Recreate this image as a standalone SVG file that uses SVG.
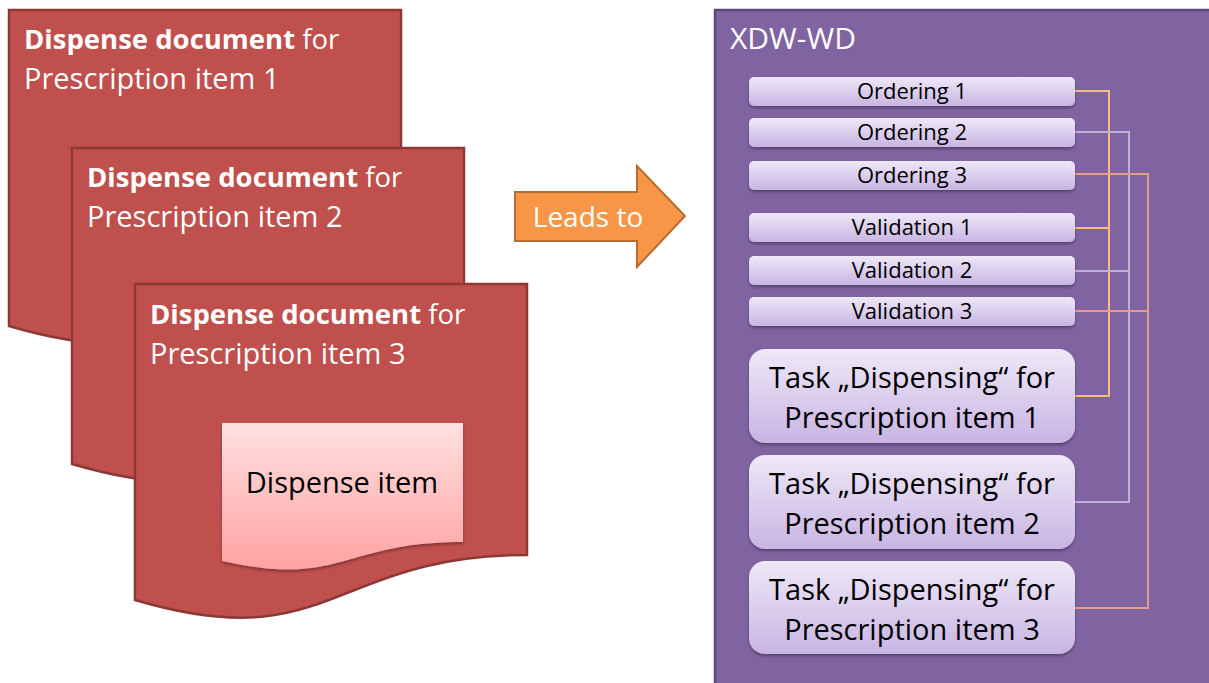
<svg xmlns="http://www.w3.org/2000/svg" width="1209" height="683" viewBox="0 0 1209 683">
<defs>
<linearGradient id="gItem" x1="0" y1="0" x2="0" y2="1"><stop offset="0" stop-color="#FFE0E0"/><stop offset="1" stop-color="#FFA3A3"/></linearGradient>
<linearGradient id="gBar" x1="0" y1="0" x2="0" y2="1"><stop offset="0" stop-color="#EEE8F7"/><stop offset="1" stop-color="#C8B5E3"/></linearGradient>
<filter id="sh" x="-10%" y="-20%" width="120%" height="150%"><feDropShadow dx="0" dy="2" stdDeviation="1.5" flood-color="#000" flood-opacity="0.35"/></filter>
<path id="doc" d="M0,0 H392 V271 C196,271 196,374 0,316 Z"/>
</defs>
<style>
.doc{fill:#C0504D;stroke:#8C3836;stroke-width:2.5}
.dt{font-family:"Open Sans","Liberation Sans",sans-serif;font-size:29px;fill:#fff}
.l1{font-size:27.5px}
.b{font-weight:bold}
.bar{fill:url(#gBar);filter:url(#sh)}
.bt{font-family:"Open Sans","Liberation Sans",sans-serif;font-size:22px;fill:#000;text-anchor:middle}
.tt{font-family:"Open Sans","Liberation Sans",sans-serif;font-size:29px;fill:#000;text-anchor:middle}
.c{fill:none;stroke-width:2}
</style>
<rect width="1209" height="683" fill="#fff"/>
<g id="doc1">
<use href="#doc" x="9" y="10" class="doc"/>
<text class="dt l1" x="24" y="49"><tspan class="b">Dispense document</tspan> for</text>
<text class="dt" x="24" y="89">Prescription item 1</text>
</g>
<g id="doc2">
<use href="#doc" x="72" y="148" class="doc"/>
<text class="dt l1" x="87" y="187"><tspan class="b">Dispense document</tspan> for</text>
<text class="dt" x="87" y="227">Prescription item 2</text>
</g>
<g id="doc3">
<use href="#doc" x="135" y="284" class="doc"/>
<text class="dt l1" x="150" y="324"><tspan class="b">Dispense document</tspan> for</text>
<text class="dt" x="150" y="364">Prescription item 3</text>
</g>
<g id="item">
<path d="M222,423 H463 V542 C342,542 342,588 222,561 Z" fill="url(#gItem)" filter="url(#sh)"/>
<text x="342" y="493" font-family="Open Sans, Liberation Sans, sans-serif" font-size="29" text-anchor="middle" fill="#000">Dispense item</text>
</g>
<g id="arrow">
<path d="M515,192 H637 V166 L685,216 L637,267 V241 H515 Z" fill="#F79646" stroke="#B66D31" stroke-width="2"/>
<text x="588" y="227" font-family="Open Sans, Liberation Sans, sans-serif" font-size="28" text-anchor="middle" fill="#fff">Leads to</text>
</g>
<g id="xdw">
<rect x="715" y="10" width="500" height="680" fill="#8064A2" stroke="#5C4776" stroke-width="2.5"/>
<text x="730" y="49" font-family="Open Sans, Liberation Sans, sans-serif" font-size="30" fill="#fff">XDW-WD</text>
</g>
<g id="connectors">
<path class="c" stroke="#F9BB80" d="M1075,91 H1109 V396 H1075 M1075,228 H1109"/>
<path class="c" stroke="#BFB0D3" d="M1075,132 H1129 V502 H1075 M1075,271 H1129"/>
<path class="c" stroke="#E59C8A" d="M1075,174 H1148 V608 H1075 M1075,311 H1148"/>
</g>
<g id="ordering1"><rect class="bar" x="749" y="77" width="326" height="29" rx="5"/><text class="bt" x="912" y="99">Ordering 1</text></g>
<g id="ordering2"><rect class="bar" x="749" y="118" width="326" height="29" rx="5"/><text class="bt" x="912" y="140">Ordering 2</text></g>
<g id="ordering3"><rect class="bar" x="749" y="161" width="326" height="29" rx="5"/><text class="bt" x="912" y="183">Ordering 3</text></g>
<g id="validation1"><rect class="bar" x="749" y="213" width="326" height="29" rx="5"/><text class="bt" x="912" y="235">Validation 1</text></g>
<g id="validation2"><rect class="bar" x="749" y="256" width="326" height="29" rx="5"/><text class="bt" x="912" y="278">Validation 2</text></g>
<g id="validation3"><rect class="bar" x="749" y="297" width="326" height="29" rx="5"/><text class="bt" x="912" y="319">Validation 3</text></g>
<g id="task1"><rect class="bar" x="749" y="349" width="326" height="94" rx="16"/><text class="tt" x="912" y="388">Task „Dispensing“ for</text><text class="tt" x="912" y="428">Prescription item 1</text></g>
<g id="task2"><rect class="bar" x="749" y="455" width="326" height="94" rx="16"/><text class="tt" x="912" y="494">Task „Dispensing“ for</text><text class="tt" x="912" y="534">Prescription item 2</text></g>
<g id="task3"><rect class="bar" x="749" y="561" width="326" height="93" rx="16"/><text class="tt" x="912" y="600">Task „Dispensing“ for</text><text class="tt" x="912" y="640">Prescription item 3</text></g>
</svg>
